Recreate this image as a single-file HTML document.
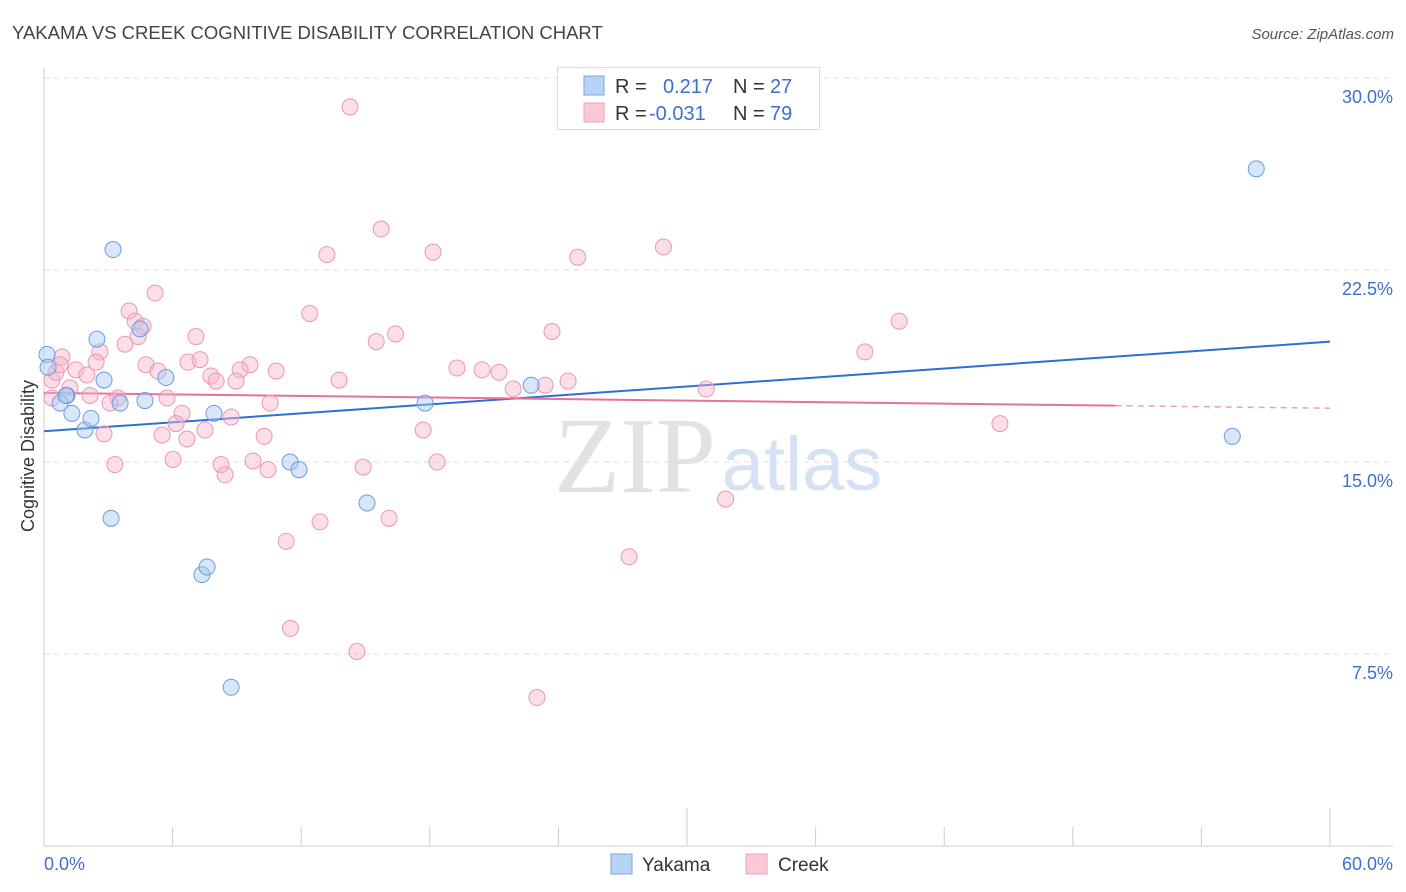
<!DOCTYPE html>
<html><head><meta charset="utf-8"><style>
html,body{margin:0;padding:0;background:#fff;width:1406px;height:892px;overflow:hidden;font-family:"Liberation Sans",sans-serif}
</style></head><body>
<svg id="chart" width="1406" height="892" xmlns="http://www.w3.org/2000/svg">
<text x="12" y="39" font-size="18.5" fill="#444">YAKAMA VS CREEK COGNITIVE DISABILITY CORRELATION CHART</text>
<text x="1394" y="39" font-size="15" fill="#555" font-style="italic" text-anchor="end">Source: ZipAtlas.com</text>
<g id="grid"></g>
<text x="635" y="492" font-size="108" fill="#e2e2e2" font-family="Liberation Serif,serif" text-anchor="middle">ZIP</text>
<text x="802" y="490" font-size="76" fill="#d4e2f4" text-anchor="middle">atlas</text>
<g id="axes"></g>
<g id="trends"></g>
<g id="points"></g>
<text transform="translate(34,456) rotate(-90)" font-size="18" fill="#333" text-anchor="middle">Cognitive Disability</text>
<g>
<rect x="557.5" y="67.5" width="262" height="62" fill="#fff" stroke="#ddd"/>
<rect x="584" y="76" width="20" height="19" fill="#b8d3f6" stroke="#7aa6e2"/>
<rect x="584" y="103" width="20" height="19" fill="#fbc8d6" stroke="#efa0b8"/>
<text x="615" y="93" font-size="20" fill="#333">R = </text><text x="663" y="93" font-size="20" fill="#3d6fcc">0.217</text>
<text x="733" y="93" font-size="20" fill="#333">N = </text><text x="770" y="93" font-size="20" fill="#3d6fcc">27</text>
<text x="615" y="120" font-size="20" fill="#333">R = </text><text x="649" y="120" font-size="20" fill="#3d6fcc">-0.031</text>
<text x="733" y="120" font-size="20" fill="#333">N = </text><text x="770" y="120" font-size="20" fill="#3d6fcc">79</text>
</g>
<g>
<rect x="611" y="854" width="21" height="20" fill="#b8d3f6" stroke="#7aa6e2"/>
<text x="642" y="871" font-size="19" fill="#333">Yakama</text>
<rect x="746" y="854" width="21" height="20" fill="#fbc8d6" stroke="#efa0b8"/>
<text x="778" y="871" font-size="19" fill="#333">Creek</text>
</g>
</svg>
<script>
const yTicks=[7.5,15,22.5,30];
const yTickLabels=["7.5%","15.0%","22.5%","30.0%"];
const xTickVals=[0,6,12,18,24,30,36,42,48,54,60];
const yakamaX=[0.14,0.19,1.07,0.75,1.3,1.91,2.19,2.47,2.8,3.22,3.13,3.55,4.48,4.71,5.69,7.37,7.61,7.93,8.73,11.48,11.9,15.07,17.78,22.73,56.56,55.44,1.03];
const yakamaY=[19.2,18.7,17.6,17.3,16.9,16.25,16.7,19.8,18.2,23.3,12.8,17.3,20.2,17.4,18.3,10.6,10.9,16.9,6.2,15.0,14.7,13.4,17.3,18.0,26.45,16.0,17.6];
const creekX=[14.28,15.73,18.15,13.2,24.9,28.9,5.18,3.97,12.4,4.25,4.62,4.39,7.09,23.7,16.4,15.5,39.9,38.3,3.78,2.61,0.84,2.43,6.72,7.28,4.76,9.61,9.15,10.83,5.32,1.49,2.0,7.79,8.03,8.96,13.77,19.27,20.44,21.23,24.45,23.38,21.89,30.9,0.37,0.56,1.21,2.15,3.45,3.08,5.74,10.55,6.44,8.73,6.16,7.51,5.51,2.8,6.67,10.27,17.69,44.6,6.02,9.75,3.31,8.26,14.89,18.34,10.45,8.45,31.8,12.88,16.1,11.3,27.3,11.5,14.6,23.0,0.37,0.75];
const creekY=[28.87,24.1,23.2,23.1,23.0,23.4,21.6,20.9,20.8,20.5,20.3,19.9,19.9,20.1,20.0,19.7,20.5,19.3,19.6,19.3,19.1,18.9,18.9,19.0,18.8,18.8,18.6,18.55,18.55,18.6,18.4,18.36,18.16,18.16,18.2,18.67,18.6,18.5,18.16,18.0,17.85,17.85,18.2,18.5,17.9,17.6,17.5,17.3,17.5,17.3,16.9,16.76,16.5,16.25,16.05,16.1,15.9,16.0,16.25,16.5,15.1,15.04,14.9,14.9,14.8,15.0,14.7,14.5,13.55,12.66,12.8,11.9,11.3,8.5,7.6,5.8,17.5,18.8];
const yakamaTrend=[16.2,19.7];
const creekTrend=[17.7,17.1];
const creekSolidEnd=50;
const NS="http://www.w3.org/2000/svg";
const sx=v=>44+v*(1330-44)/60;
const sy=v=>846-v*25.6;
function mk(tag,attrs,parent){const e=document.createElementNS(NS,tag);for(const k in attrs)e.setAttribute(k,attrs[k]);document.getElementById(parent).appendChild(e);return e;}
yTicks.forEach((t,i)=>{
 const l=mk('line',{x1:44,x2:1393,y1:sy(t),y2:sy(t),stroke:'#ddd','stroke-dasharray':'5,5'},'grid');
 
 
 const tx=mk('text',{x:1393,y:sy(t)+25,'font-size':18,fill:'#3d6fcc','text-anchor':'end'},'grid');
 tx.textContent=yTickLabels[i];
 
 
});
const ax=mk('line',{x1:44,x2:44,y1:68,y2:846,stroke:'#ccc'},'axes');


const bx=mk('line',{x1:44,x2:1393,y1:846,y2:846,stroke:'#ccc'},'axes');


xTickVals.forEach(v=>{
 const long=(v===30||v===60);
 const t=mk('line',{x1:sx(v),x2:sx(v),y1:long?808:827,y2:846,stroke:'#ccc'},'axes');
 
 
});
const xl0=mk('text',{x:44,y:870,'font-size':18,fill:'#3d6fcc'},'axes');xl0.textContent='0.0%';


const xl1=mk('text',{x:1393,y:870,'font-size':18,fill:'#3d6fcc','text-anchor':'end'},'axes');xl1.textContent='60.0%';


function dot(x,y,fill,stroke,name){const c=mk('circle',{cx:sx(x),cy:sy(y),r:8,fill:fill,'fill-opacity':0.45,stroke:stroke,'stroke-width':1},'points');
 
 }
creekX.forEach((x,i)=>dot(x,creekY[i],'#f7b6c9','#eb97b1','creek-point'));
yakamaX.forEach((x,i)=>dot(x,yakamaY[i],'#a8c7f1','#6a9ce0','yakama-point'));
const bt=mk('line',{x1:sx(0),y1:sy(yakamaTrend[0]),x2:sx(60),y2:sy(yakamaTrend[1]),stroke:'#2e6fd6','stroke-width':2},'trends');


const ym=creekTrend[0]+(creekTrend[1]-creekTrend[0])*creekSolidEnd/60;
const pt=mk('line',{x1:sx(0),y1:sy(creekTrend[0]),x2:sx(creekSolidEnd),y2:sy(ym),stroke:'#e8709a','stroke-width':2},'trends');


const pd=mk('line',{x1:sx(creekSolidEnd),y1:sy(ym),x2:sx(60),y2:sy(creekTrend[1]),stroke:'#e8a0b8','stroke-width':1.5,'stroke-dasharray':'6,5'},'trends');


</script>
</body></html>
